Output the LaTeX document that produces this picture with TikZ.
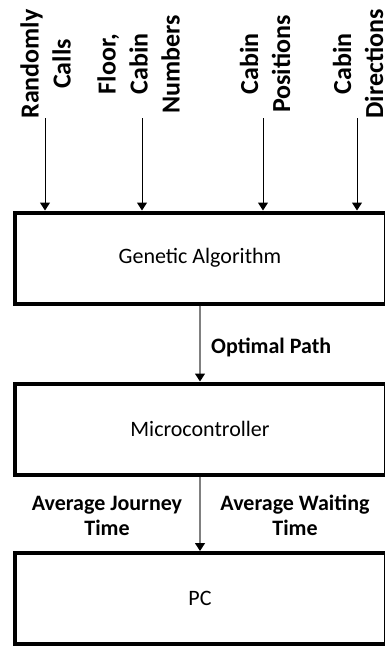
\documentclass[tikz,border=0pt]{standalone}
\usepackage{fontspec}
\usepackage{graphicx}
\setmainfont{Carlito}
\usetikzlibrary{arrows.meta}
\newcommand{\cstack}[1]{\rotatebox{90}{\vbox{\halign{\hfil##\hfil\cr#1\crcr}}}}
\begin{document}
\begin{tikzpicture}[x=1pt,y=-1pt,
  block/.style={draw=black,line width=4pt,minimum width=371pt,minimum height=91pt,inner sep=0pt,
    font=\fontsize{22}{25}\selectfont},
  toplabel/.style={inner sep=0pt,font=\fontsize{26}{32}\selectfont\bfseries},
  midlabel/.style={align=center,inner sep=0pt,font=\fontsize{22}{25}\selectfont\bfseries},
  inarrow/.style={draw=black,line width=1pt,-{Triangle[width=10pt,length=8pt]}},
  grayarrow/.style={draw=black!50,line width=1.2pt,-{Triangle[width=10pt,length=8pt,color=black]}}]
\useasboundingbox (0,0) rectangle (385,646);
% blocks
\node[block] (ga) at (200,258) {Genetic Algorithm};
\node[block] (mc) at (200,429) {Microcontroller};
\node[block] (pc) at (200,598.5) {PC};
% top labels
\node[toplabel] (l1) at (45.5,64) {\cstack{Randomly\cr Calls}};
\node[toplabel] (l2) at (138.5,64) {\cstack{Floor,\cr Cabin\cr Numbers}};
\node[toplabel] (l3) at (265,64) {\cstack{Cabin\cr Positions}};
\node[toplabel] (l4) at (358,64) {\cstack{Cabin\cr Directions}};
% arrow starts
\coordinate (s1) at (45,118);
\coordinate (s2) at (142,118);
\coordinate (s3) at (263,118);
\coordinate (s4) at (357,118);
\draw[inarrow] (s1) -- (s1 |- ga.north);
\draw[inarrow] (s2) -- (s2 |- ga.north);
\draw[inarrow] (s3) -- (s3 |- ga.north);
\draw[inarrow] (s4) -- (s4 |- ga.north);
% middle arrows
\draw[grayarrow] (ga.south) -- (mc.north);
\draw[grayarrow] (mc.south) -- (pc.north);
% labels
\node[midlabel,anchor=base west] (op) at (211,353) {Optimal Path};
\node[midlabel] (aj) at (107,515.5) {Average Journey\\Time};
\node[midlabel] (aw) at (295,515.5) {Average Waiting\\Time};
\end{tikzpicture}
\end{document}
